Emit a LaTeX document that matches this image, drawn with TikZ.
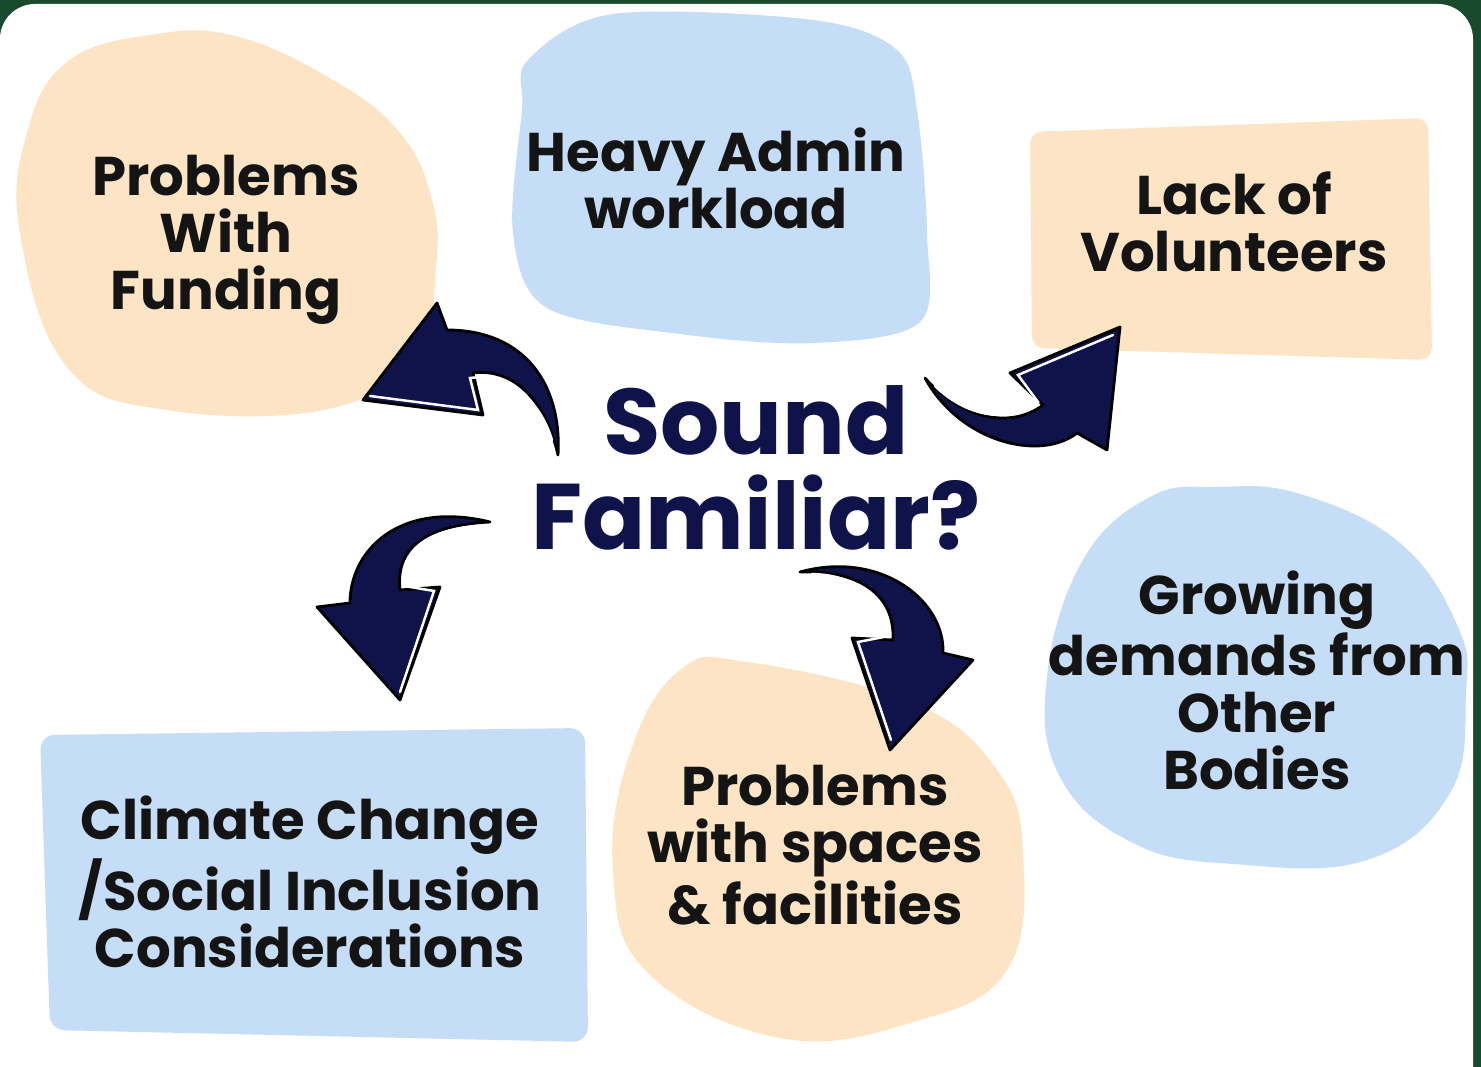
\documentclass[tikz,border=0pt]{standalone}
\usepackage{fontspec}
\setmainfont{Poppins}
\usetikzlibrary{calc,positioning}

\definecolor{peach}{RGB}{252,228,196}
\definecolor{skyblue}{RGB}{198,221,247}
\definecolor{navy}{RGB}{16,18,74}
\definecolor{frame}{RGB}{26,74,46}

\tikzset{
  issue/.style={font=\fontsize{15.5}{16.2}\selectfont\bfseries, text=black!92, align=center, inner sep=0pt},
  bigarrow/.style={fill=navy, draw=black, line width=0.8pt, line join=round},
  sheen/.style={draw=white, line width=0.7pt, line cap=round},
}

\begin{document}
\begin{tikzpicture}[x=0.01cm,y=-0.01cm]
		\useasboundingbox (0,0) rectangle (1481,1067);
		\clip (0,0) rectangle (1481,1067);
		\fill[frame] (0,0) rectangle (1481,1067);
		\fill[white, rounded corners=0.35cm] (0,4) rectangle (1473,1140);

		\fill[peach] plot[smooth cycle, tension=0.7] coordinates {(150,35) (235,36) (333,80) (400,133) (432,200) (436,267) (417,350) (333,408) (167,410) (67,367) (20,233) (27,133) (67,62)};
		\fill[skyblue] plot[smooth cycle, tension=0.55] coordinates {(528,60) (613,14) (813,20) (897,50) (917,110) (927,233) (920,322) (813,343) (680,334) (547,308) (513,233) (522,110)};
		\fill[peach, rounded corners=0.12cm] (1030,132) -- (1428,118) -- (1432,360) -- (1032,348) -- cycle;
		\fill[skyblue] plot[smooth cycle, tension=0.7] coordinates {(1150,497) (1217,487) (1300,494) (1400,543) (1458,627) (1466,693) (1450,793) (1367,860) (1233,864) (1133,843) (1060,777) (1047,677) (1083,560)};
		\fill[peach] plot[smooth cycle, tension=0.7] coordinates {(680,670) (747,662) (913,703) (997,770) (1023,853) (1007,970) (913,1022) (780,1038) (647,972) (613,870) (630,753)};
		\fill[skyblue, rounded corners=0.15cm] (40,735) -- (585,728) -- (588,1042) -- (50,1030) -- cycle;

		\node[issue] (funding) at (226,240) {Problems\\With\\Funding};
		\node[issue] (admin) at (716,178) {Heavy Admin\\workload};
		\node[issue] (volunteers) at (1234,222) {Lack of\\Volunteers};
		\node[issue] (demands) at (1257,680) {Growing\\demands from\\Other\\Bodies};
		\node[issue] (spaces) at (815,845) {Problems\\with spaces\\\&~facilities};
		\node[issue] (climate) at (310,882) {Climate Change\\/Social Inclusion\\Considerations};
		\node[font=\fontsize{26.5}{27}\selectfont\bfseries, text=navy, align=center, inner sep=0pt] (sound) at (756,468) {Sound\\Familiar?};

		\draw[bigarrow] (558,455) .. controls (562,385) and (525,330) .. (447,330) -- (437,303) -- (363,400) -- (483,415) -- (473,373) .. controls (512,368) and (545,398) .. cycle;
		\draw[sheen] (370,396) -- (478,410) -- (470,378) .. controls (508,373) and (540,400) .. (552,440);
		\draw[bigarrow] (925,378) .. controls (960,442) and (1040,462) .. (1077,433) -- (1107,450) -- (1120,327) -- (1010,373) -- (1043,405) .. controls (1010,430) and (960,418) .. cycle;
		\draw[sheen] (935,386) .. controls (965,415) and (1005,425) .. (1038,402) -- (1018,375) -- (1113,335);
		\draw[bigarrow] (490,522) .. controls (400,500) and (350,550) .. (350,603) -- (317,607) -- (400,700) -- (440,587) -- (400,590) .. controls (395,545) and (430,525) .. cycle;
		\draw[sheen] (478,526) .. controls (430,530) and (400,548) .. (404,586) -- (434,591) -- (400,692);
		\draw[bigarrow] (800,572) .. controls (880,550) and (945,600) .. (943,653) -- (973,660) -- (890,750) -- (852,638) -- (893,640) .. controls (895,595) and (860,570) .. cycle;
		\draw[sheen] (812,574) .. controls (855,575) and (890,598) .. (889,636) -- (858,642) -- (891,740);
\end{tikzpicture}
\end{document}
